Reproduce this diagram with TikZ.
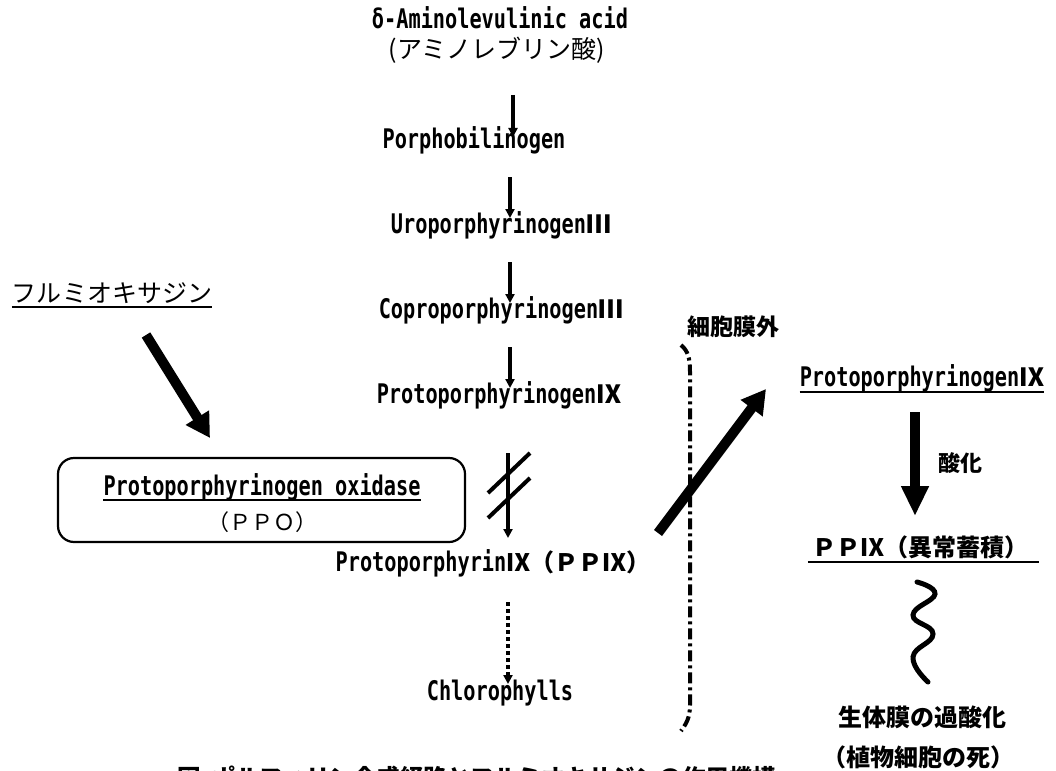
\documentclass[tikz,border=0pt]{standalone}
\usepackage{fontspec}
\newfontfamily\lat{DejaVu Sans Mono}[FakeStretch=0.75]
\newfontfamily\jp{Noto Sans CJK JP}
\usetikzlibrary{arrows.meta}
\begin{document}
\begin{tikzpicture}[x=1pt,y=-1pt,
  lt/.style={inner sep=0pt, font=\lat\bfseries\fontsize{27}{30}\selectfont},
  jt/.style={inner sep=0pt, font=\jp\fontsize{25}{28}\selectfont},
  jb/.style={inner sep=0pt, font=\jp\bfseries\fontsize{24}{27}\selectfont},
  chain/.style={line width=3.5pt, -{Triangle[length=9pt,width=9pt]}},
  big/.style={line width=10pt, -{Triangle[length=24pt,width=26pt]}},
  uline/.style={line width=2pt},
  membrane/.style={line width=4pt, dash pattern=on 11pt off 4pt on 3pt off 4pt},
]
\useasboundingbox[fill=white] (0,0) rectangle (1056,770);
\newcommand\jr[1]{{\jp\fontsize{25}{28}\selectfont #1}}

% main pathway
\node[lt] (ala) at (500,18) {δ-Aminolevulinic acid};
\node[jt] (alajp) at (497,50) {(アミノレブリン酸)};
\node[lt] (pbg) at (474,140) {Porphobilinogen};
\node[lt] (uro) at (501,225) {Uroporphyrinogen\jr{Ⅲ}};
\node[lt] (copro) at (501,310) {Coproporphyrinogen\jr{Ⅲ}};
\node[lt] (protogen) at (499,395) {Protoporphyrinogen\jr{Ⅸ}};
\node[lt] (ppix) at (493,563) {Protoporphyrin{\jp\fontsize{24}{26}\selectfont Ⅸ（ＰＰⅨ）}};
\node[lt] (chl) at (500,693) {Chlorophylls};

\coordinate (a1t) at (513,95);  \coordinate (a1h) at (513,137);
\coordinate (a2t) at (510,177); \coordinate (a2h) at (510,218);
\coordinate (a3t) at (510,262); \coordinate (a3h) at (510,303);
\coordinate (a4t) at (510,347); \coordinate (a4h) at (510,388);
\coordinate (a5t) at (508,453); \coordinate (a5h) at (508,538);
\coordinate (a6t) at (508,602); \coordinate (a6h) at (508,684);
\draw[chain] (a1t) -- (a1h);
\draw[chain] (a2t) -- (a2h);
\draw[chain] (a3t) -- (a3h);
\draw[chain] (a4t) -- (a4h);
\draw[chain] (a5t) -- (a5h);
\draw[line width=4pt] (488,493) -- (530,453);
\draw[line width=4pt] (488,518) -- (530,478);
\draw[chain, dash pattern=on 4pt off 3pt] (a6t) -- (a6h);

% inhibitor and enzyme
\node[jt] (flu) at (112,293) {フルミオキサジン};
\draw[uline] ([yshift=-5pt]flu.base west) -- ([yshift=-5pt]flu.base east);
\node[draw, line width=2.2pt, rounded corners=16pt, minimum width=407pt, minimum height=84pt, inner sep=0pt] (box) at (261.5,500) {};
\node[lt] (pponame) at (262,487) {Protoporphyrinogen oxidase};
\draw[uline] ([yshift=-5pt]pponame.base west) -- ([yshift=-5pt]pponame.base east);
\node[jt, font=\jp\fontsize{22}{24}\selectfont] (ppoabbr) at (262,522) {（ＰＰＯ）};
\coordinate (f1) at (146,335); \coordinate (f2) at (210,438);
\draw[big] (f1) -- (f2);

% membrane
\draw[membrane] (681,345) .. controls (688,351) and (690,358) .. (690,372) -- (690,705) .. controls (690,718) and (686,724) .. (681,731);
\node[jb, font=\jp\bfseries\fontsize{23}{26}\selectfont] (outside) at (733,327) {細胞膜外};
\coordinate (d1) at (658,533); \coordinate (d2) at (766,389);
\draw[big] (d1) -- (d2);

% right side
\node[lt] (rpg) at (922,378) {Protoporphyrinogen\jr{Ⅸ}};
\draw[uline] ([yshift=-6pt]rpg.base west) -- ([yshift=-6pt]rpg.base east);
\coordinate (o1) at (915,412); \coordinate (o2) at (915,516);
\draw[line width=10pt, -{Triangle[length=30pt,width=26pt]}] (o1) -- (o2);
\node[jb, font=\jp\bfseries\fontsize{22}{24}\selectfont] (sanka) at (960,463) {酸化};
\node[jb] (rppix) at (920,547) {ＰＰⅨ（異常蓄積）};
\draw[uline] ([xshift=-4pt,yshift=-6pt]rppix.base west) -- ([xshift=11pt,yshift=-6pt]rppix.base east);
\draw[line width=5pt, line cap=round] plot[smooth, tension=0.8] coordinates {(917,582) (935,594) (913,615) (933,634) (913,657) (928,682)};
\node[jb] (perox) at (922,717) {生体膜の過酸化};
\node[jb] (death) at (918,757) {（植物細胞の死）};

% caption (cut off at the bottom edge, as in the reference)
\begin{scope}
\clip (0,0) rectangle (1056,770);
\node[inner sep=0pt, anchor=base west, font=\jp\bfseries\fontsize{23.5}{26}\selectfont] (cap) at (177,786) {図\hspace{12pt}ポルフィリン合成経路とフルミオキサジンの作用機構};
\end{scope}
\end{tikzpicture}
\end{document}
